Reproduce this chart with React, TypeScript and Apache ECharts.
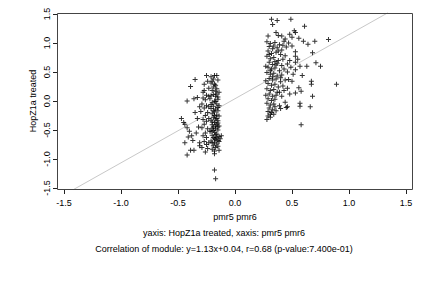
import React, { useEffect, useRef } from "react";
import * as echarts from "echarts";

const xTicks = [-1.5, -1.0, -0.5, 0.0, 0.5, 1.0, 1.5];
const yTicks = [-1.5, -1.0, -0.5, 0.0, 0.5, 1.0, 1.5];

const leftCluster: number[][] = [
  [-0.35, 0.37], [-0.39, 0.25], [-0.42, 0.0], [-0.36, 0.04], [-0.33, 0.06], [-0.45, -0.37], [-0.42, -0.46],
  [-0.44, -0.4], [-0.4, -0.52], [-0.38, -0.6], [-0.41, -0.62], [-0.37, -0.68], [-0.44, -0.72], [-0.42, -0.93],
  [-0.39, -0.85], [-0.36, -0.85], [-0.33, -0.3], [-0.35, -0.2], [-0.31, -0.72], [-0.31, -0.77], [-0.31, -0.1],
  [-0.32, -0.45], [-0.34, -0.55], [-0.47, -0.3],
  [-0.25, 0.44], [-0.21, 0.42], [-0.18, 0.44], [-0.16, 0.44], [-0.24, 0.34], [-0.2, 0.34], [-0.17, 0.27],
  [-0.27, 0.29], [-0.23, 0.22], [-0.19, 0.38], [-0.15, 0.36], [-0.28, 0.15],
  [-0.27, 0.18], [-0.25, 0.1], [-0.28, 0.05], [-0.26, 0.02], [-0.29, -0.05], [-0.25, -0.08], [-0.27, -0.12],
  [-0.3, -0.18], [-0.24, -0.2], [-0.26, -0.25], [-0.28, -0.32], [-0.25, -0.35], [-0.27, -0.4], [-0.29, -0.46],
  [-0.24, -0.48], [-0.26, -0.55], [-0.28, -0.6], [-0.25, -0.63], [-0.27, -0.7], [-0.25, -0.75], [-0.23, -0.72],
  [-0.24, -0.82], [-0.26, -0.88], [-0.29, -0.8], [-0.23, -0.3], [-0.23, -0.1], [-0.23, 0.08], [-0.22, -0.52],
  [-0.21, 0.31], [-0.18, 0.29], [-0.16, 0.21], [-0.2, 0.18], [-0.14, 0.15], [-0.19, 0.11], [-0.17, 0.08],
  [-0.22, 0.04], [-0.15, 0.03], [-0.18, 0.0], [-0.2, -0.03], [-0.16, -0.05], [-0.14, -0.08], [-0.19, -0.09],
  [-0.21, -0.13], [-0.17, -0.14], [-0.15, -0.17], [-0.18, -0.19], [-0.2, -0.22], [-0.16, -0.24], [-0.14, -0.26],
  [-0.19, -0.28], [-0.17, -0.31], [-0.21, -0.33], [-0.15, -0.34], [-0.18, -0.37], [-0.16, -0.4], [-0.2, -0.41],
  [-0.14, -0.43], [-0.19, -0.45], [-0.17, -0.48], [-0.15, -0.5], [-0.21, -0.52], [-0.18, -0.54], [-0.16, -0.57],
  [-0.2, -0.59], [-0.14, -0.61], [-0.19, -0.63], [-0.17, -0.66], [-0.15, -0.68], [-0.21, -0.69], [-0.18, -0.72],
  [-0.16, -0.74], [-0.19, -0.77], [-0.17, -0.8], [-0.15, -0.78], [-0.2, -0.83], [-0.18, -0.86], [-0.16, 0.12],
  [-0.19, 0.24], [-0.17, -0.01], [-0.15, -0.11], [-0.21, -0.06], [-0.18, -0.25], [-0.16, -0.3], [-0.2, -0.36],
  [-0.17, -0.43], [-0.15, -0.45], [-0.19, -0.51], [-0.16, -0.63], [-0.18, -0.65], [-0.2, -0.72], [-0.14, -0.7],
  [-0.17, -0.58], [-0.19, -0.17], [-0.15, 0.07], [-0.21, 0.09], [-0.17, 0.17], [-0.15, -0.38], [-0.2, -0.47],
  [-0.18, -0.91], [-0.18, -1.19], [-0.17, -1.34], [-0.13, -0.65], [-0.12, -0.6], [-0.14, -0.85],
];

const rightCluster: number[][] = [
  [0.32, 1.41], [0.37, 1.39], [0.33, 1.32], [0.49, 1.41], [0.61, 1.29], [0.29, 1.12], [0.36, 1.18], [0.38, 1.13],
  [0.41, 1.12], [0.48, 1.15], [0.52, 1.21], [0.53, 1.18], [0.5, 1.1], [0.56, 1.08], [0.6, 1.03], [0.64, 0.98],
  [0.7, 1.03], [0.82, 1.06], [0.68, 0.83], [0.71, 0.66], [0.75, 0.6], [0.63, 0.6], [0.57, 0.6], [0.53, 0.54],
  [0.59, 0.44], [0.67, 0.34], [0.67, 0.29], [0.89, 0.29], [0.56, 0.23], [0.58, 0.17], [0.53, 0.14], [0.68, 0.08],
  [0.57, -0.09], [0.66, -0.1], [0.58, -0.41], [0.57, -0.04], [0.29, -0.26], [0.31, -0.23], [0.34, -0.23],
  [0.28, -0.32], [0.45, -0.11], [0.46, -0.1],
  [0.28, 1.02], [0.31, 0.99], [0.35, 1.01], [0.39, 0.97], [0.43, 1.03], [0.3, 0.94], [0.33, 0.9], [0.37, 0.92],
  [0.41, 0.88], [0.45, 0.93], [0.29, 0.86], [0.32, 0.82], [0.36, 0.84], [0.4, 0.8], [0.44, 0.78], [0.28, 0.77],
  [0.31, 0.73], [0.34, 0.75], [0.38, 0.7], [0.42, 0.72], [0.3, 0.67], [0.33, 0.63], [0.37, 0.65], [0.41, 0.61],
  [0.46, 0.64], [0.29, 0.58], [0.32, 0.55], [0.35, 0.57], [0.39, 0.52], [0.43, 0.55], [0.28, 0.49], [0.31, 0.46],
  [0.34, 0.48], [0.37, 0.43], [0.41, 0.45], [0.3, 0.39], [0.33, 0.36], [0.36, 0.38], [0.4, 0.33], [0.44, 0.36],
  [0.29, 0.3], [0.32, 0.27], [0.35, 0.29], [0.38, 0.24], [0.42, 0.26], [0.28, 0.21], [0.31, 0.18], [0.34, 0.2],
  [0.37, 0.15], [0.3, 0.12], [0.33, 0.08], [0.36, 0.1], [0.29, 0.04], [0.32, 0.01], [0.35, 0.03], [0.28, -0.04],
  [0.31, -0.07], [0.34, -0.05], [0.3, -0.12], [0.33, -0.15], [0.29, -0.18], [0.32, -0.2], [0.36, -0.17],
  [0.27, 0.6], [0.27, 0.35], [0.27, 0.1], [0.39, -0.08], [0.41, 0.08], [0.43, 0.18], [0.46, 0.5], [0.48, 0.7],
  [0.47, 0.37], [0.5, 0.34], [0.53, 0.85], [0.53, 0.77], [0.53, 0.67], [0.5, 0.95], [0.47, 1.0], [0.44, 1.07],
  [0.55, 0.72], [0.49, 0.58], [0.51, 0.46], [0.46, 0.22], [0.48, 0.12], [0.44, -0.02], [0.4, -0.13], [0.36, 0.62],
  [0.38, 0.86], [0.34, 0.95], [0.31, 0.52], [0.4, 0.4], [0.33, 0.42], [0.35, 0.68], [0.3, 0.8], [0.42, 0.96],
  [0.39, 0.15], [0.35, -0.1], [0.31, -0.28],
];

const fitLine: number[][] = [
  [-1.42, -1.53],
  [1.34, 1.52],
];

const xLabel = "pmr5 pmr6";
const yLabel = "HopZ1a treated";
const subtitle1 = "yaxis: HopZ1a treated, xaxis: pmr5 pmr6";
const subtitle2 = "Correlation of module: y=1.13x+0.04, r=0.68 (p-value:7.400e-01)";

const FONT = "'Liberation Sans', Arial, Helvetica, sans-serif";
const PLUS = "path://M2,0H3V2H5V3H3V5H2V3H0V2H2Z";

export default function App() {
  const ref = useRef<HTMLDivElement>(null);
  useEffect(() => {
    if (!ref.current) return;
    const chart = echarts.init(ref.current, null, { renderer: "svg" });
    chart.setOption({
      animation: false,
      backgroundColor: "#ffffff",
      grid: { left: 64, right: 26, top: 14, bottom: 100, containLabel: false },
      xAxis: {
        type: "value",
        min: xTicks[0],
        max: xTicks[xTicks.length - 1],
        interval: 0.5,
        offset: 2,
        axisLine: { show: false, onZero: false },
        axisTick: { show: true, length: 4, lineStyle: { color: "#222" } },
        splitLine: { show: false },
        axisLabel: {
          color: "#000",
          fontSize: 9,
          fontFamily: FONT,
          margin: 8,
          formatter: (v: number) => v.toFixed(1),
        },
      },
      yAxis: {
        type: "value",
        min: yTicks[0],
        max: yTicks[yTicks.length - 1],
        interval: 0.5,
        offset: 7,
        axisLine: { show: false, onZero: false },
        axisTick: { show: true, length: 4, lineStyle: { color: "#222" } },
        splitLine: { show: false },
        axisLabel: {
          color: "#000",
          fontSize: 9,
          fontFamily: FONT,
          rotate: 90,
          margin: 6,
          formatter: (v: number) => v.toFixed(1),
        },
      },
      series: [
        {
          type: "line",
          data: fitLine,
          symbol: "none",
          clip: false,
          lineStyle: { color: "#c8c8c8", width: 1 },
          silent: true,
          z: 1,
        },
        {
          type: "scatter",
          data: leftCluster,
          symbol: PLUS,
          symbolSize: 5,
          itemStyle: { color: "#000" },
          z: 2,
        },
        {
          type: "scatter",
          data: rightCluster,
          symbol: PLUS,
          symbolSize: 5,
          itemStyle: { color: "#000" },
          z: 2,
        },
      ],
      graphic: [
        {
          type: "rect",
          shape: { x: 57.5, y: 13.5, width: 355, height: 176 },
          style: { fill: "none", stroke: "#444", lineWidth: 1 },
          silent: true,
          z: 10,
        },
        {
          type: "text",
          x: 235,
          y: 217,
          style: { text: xLabel, fill: "#000", font: `9px ${FONT}`, align: "center", verticalAlign: "middle" },
        },
        {
          type: "text",
          x: 33,
          y: 101,
          rotation: Math.PI / 2,
          style: { text: yLabel, fill: "#000", font: `9px ${FONT}`, align: "center", verticalAlign: "middle" },
        },
        {
          type: "text",
          x: 224,
          y: 233,
          style: { text: subtitle1, fill: "#000", font: `9px ${FONT}`, align: "center", verticalAlign: "middle" },
        },
        {
          type: "text",
          x: 224,
          y: 249,
          style: { text: subtitle2, fill: "#000", font: `9px ${FONT}`, align: "center", verticalAlign: "middle" },
        },
      ],
    });
    return () => chart.dispose();
  }, []);
  return <div ref={ref} style={{ width: 432, height: 288, position: "fixed", left: 0, top: 0 }} />;
}
